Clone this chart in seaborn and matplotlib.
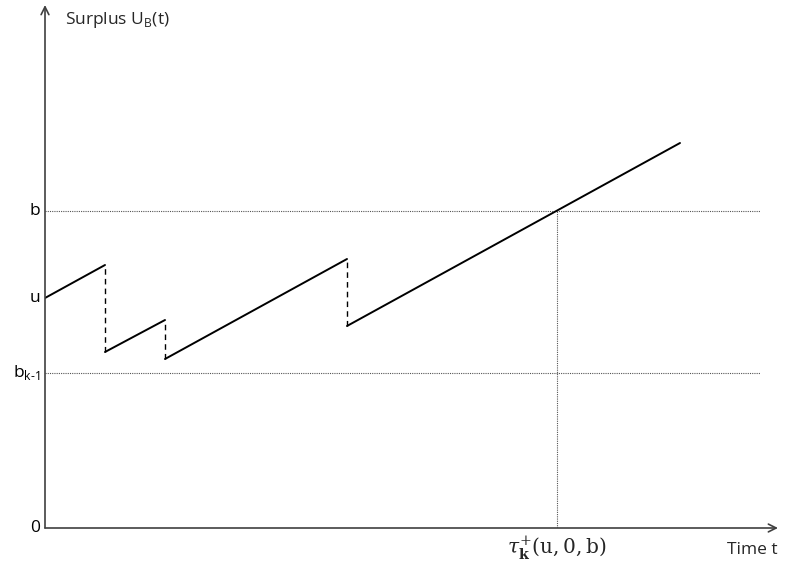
import numpy as np
import pandas as pd
import matplotlib
matplotlib.use("Agg")
import matplotlib.pyplot as plt
import seaborn as sns

# Values (time and surplus in drawing units)
u0 = 230
b_level = 317
bk1_level = 155
jump_times = [60, 120, 302]
pre_jump = [263, 208, 269]
post_jump = [176, 169, 202]
end_time = 635
end_value = 385
tau_hit = 512
y_tick_vals = [0, bk1_level, u0, b_level]
y_tick_labels = ["0", r"b$_\mathregular{k\text{-}1}$", "u", "b"]

sns.set_theme(style="white")
plt.rcParams['font.family'] = ['Open Sans', 'DejaVu Sans']
plt.rcParams['mathtext.fontset'] = 'custom'
plt.rcParams['mathtext.rm'] = 'Open Sans'

# Build the solid drift segments and dashed claim jumps
seg_start_t = [0] + jump_times
seg_start_v = [u0] + post_jump
seg_end_t = jump_times + [end_time]
seg_end_v = pre_jump + [end_value]
rows = []
for i in range(len(seg_start_t)):
    rows.append({"seg": i, "t": seg_start_t[i], "U": seg_start_v[i]})
    rows.append({"seg": i, "t": seg_end_t[i], "U": seg_end_v[i]})
drift = pd.DataFrame(rows)

jrows = []
for i, t in enumerate(jump_times):
    jrows.append({"seg": i, "t": t, "U": pre_jump[i]})
    jrows.append({"seg": i, "t": t, "U": post_jump[i]})
jumps = pd.DataFrame(jrows)

W, H = 804, 579
fig = plt.figure(figsize=(W / 100, H / 100), dpi=100)
x0_px, y0_px = 45, 528
ax = fig.add_axes([x0_px / W, (H - y0_px) / H, (778 - x0_px) / W, (y0_px - 5) / H])
ax.set_xlim(0, 778 - x0_px)
ax.set_ylim(0, y0_px - 5)

# dotted reference lines
for lvl in [b_level, bk1_level]:
    ax.plot([0, 715], [lvl, lvl], color="#555555", lw=0.8, ls=(0, (1, 1)))
ax.plot([tau_hit, tau_hit], [0, b_level], color="#555555", lw=0.8, ls=(0, (1, 1)))

sns.lineplot(data=drift, x="t", y="U", units="seg", estimator=None,
             color="black", lw=1.4, ax=ax, legend=False)
sns.lineplot(data=jumps, x="t", y="U", units="seg", estimator=None,
             color="black", lw=1.0, ax=ax, legend=False, dashes=False)
for line in ax.lines[-len(jump_times):]:
    line.set_linestyle((0, (4, 3)))

# axes with arrows
for s in ax.spines.values():
    s.set_visible(False)
ax.set_xticks([])
ax.set_yticks([])
ax.set_xlabel("")
ax.set_ylabel("")
arrow = dict(arrowstyle="->", color="#404040", lw=1.2, shrinkA=0, shrinkB=0,
             mutation_scale=14)
ax.annotate("", xy=(0, 523), xytext=(0, 0), arrowprops=arrow, annotation_clip=False)
ax.annotate("", xy=(733, 0), xytext=(0, 0), arrowprops=arrow, annotation_clip=False)

for v, lab in zip(y_tick_vals, y_tick_labels):
    ax.text(-5, v, lab, ha="right", va="center", fontsize=12.5, color="black")

ax.text(20, 508, r"Surplus U$_\mathregular{B}$(t)", ha="left", va="center", fontsize=12.5)
ax.text(733, -22, "Time t", ha="right", va="center", fontsize=12.5)
ax.text(tau_hit, -20, r"$\tau_{\mathbf{k}}^{+}(\mathrm{u},0,\mathrm{b})$",
        ha="center", va="center", fontsize=14.5, family=["DejaVu Serif"],
        math_fontfamily="dejavuserif")

fig.savefig("out.png", dpi=100)
